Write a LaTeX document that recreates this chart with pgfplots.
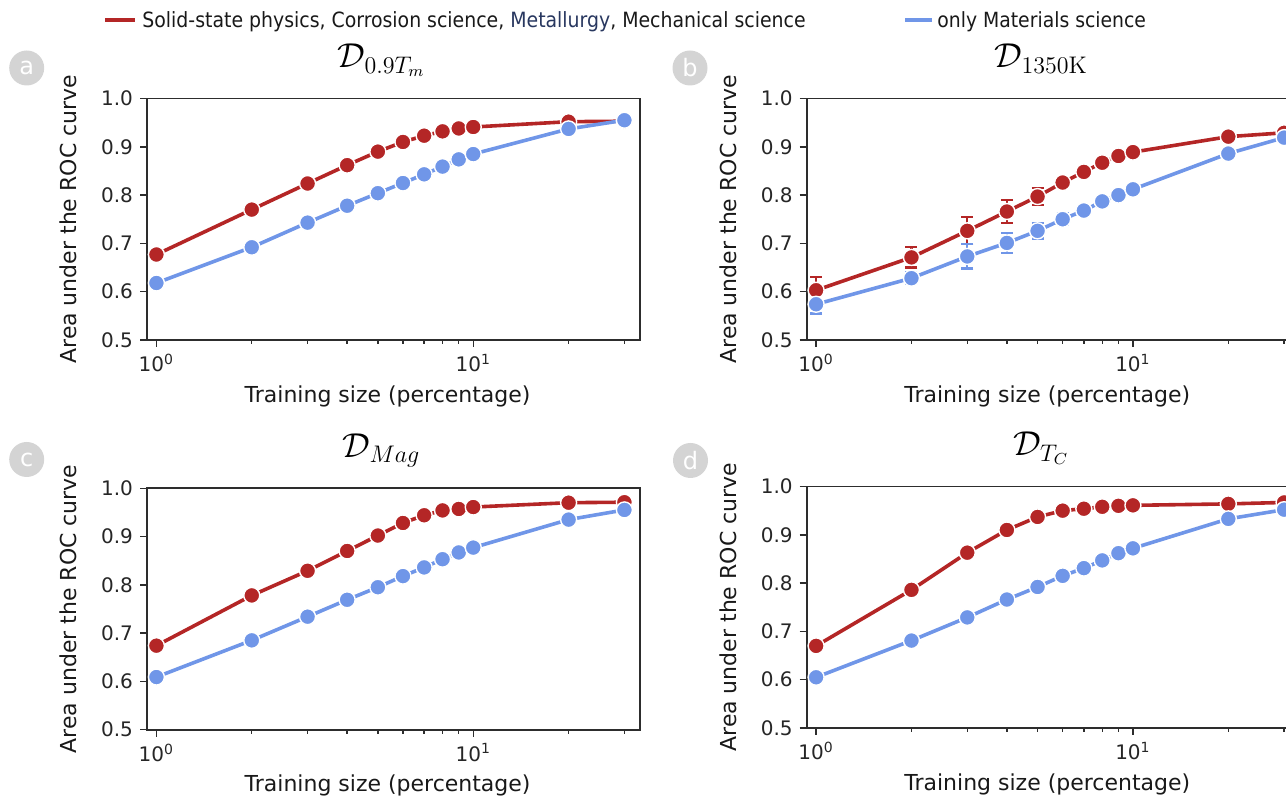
\documentclass[border=0pt]{standalone}
\usepackage[no-math]{fontspec}
\setmainfont{DejaVu Sans}
\newfontfamily\legfont{DejaVu Sans Condensed}
\usepackage{pgfplots}
\pgfplotsset{compat=1.18}
\usepackage{pgfplotstable}

\definecolor{cR}{RGB}{180,38,38}
\definecolor{cB}{RGB}{112,150,232}
\definecolor{navy}{RGB}{40,55,95}
\definecolor{frm}{RGB}{45,45,45}
\definecolor{circ}{RGB}{212,212,212}

\pgfplotstableread{
x y e
1 0.677 0.008
2 0.770 0.004
3 0.824 0.004
4 0.862 0.003
5 0.890 0.003
6 0.910 0.003
7 0.923 0.003
8 0.932 0.002
9 0.938 0.002
10 0.941 0.002
20 0.952 0.002
30 0.953 0.001
}\tabAR
\pgfplotstableread{
x y e
1 0.618 0.008
2 0.692 0.009
3 0.743 0.010
4 0.778 0.009
5 0.804 0.007
6 0.825 0.007
7 0.843 0.006
8 0.859 0.005
9 0.874 0.004
10 0.885 0.003
20 0.937 0.003
30 0.955 0.002
}\tabAB
\pgfplotstableread{
x y e
1 0.603 0.028
2 0.671 0.021
3 0.726 0.028
4 0.766 0.024
5 0.797 0.018
6 0.826 0.006
7 0.848 0.005
8 0.867 0.005
9 0.881 0.004
10 0.889 0.004
20 0.921 0.003
30 0.929 0.004
}\tabBR
\pgfplotstableread{
x y e
1 0.574 0.019
2 0.628 0.012
3 0.673 0.025
4 0.701 0.021
5 0.726 0.016
6 0.750 0.012
7 0.768 0.012
8 0.787 0.011
9 0.800 0.010
10 0.812 0.006
20 0.886 0.004
30 0.919 0.003
}\tabBB
\pgfplotstableread{
x y e
1 0.674 0.008
2 0.778 0.003
3 0.829 0.003
4 0.870 0.003
5 0.902 0.002
6 0.928 0.002
7 0.944 0.002
8 0.954 0.002
9 0.957 0.002
10 0.961 0.002
20 0.970 0.001
30 0.971 0.001
}\tabCR
\pgfplotstableread{
x y e
1 0.609 0.004
2 0.685 0.003
3 0.734 0.003
4 0.769 0.003
5 0.795 0.003
6 0.818 0.003
7 0.836 0.003
8 0.853 0.003
9 0.867 0.002
10 0.877 0.002
20 0.935 0.002
30 0.955 0.001
}\tabCB
\pgfplotstableread{
x y e
1 0.670 0.008
2 0.786 0.007
3 0.863 0.006
4 0.910 0.003
5 0.937 0.002
6 0.950 0.002
7 0.954 0.002
8 0.958 0.001
9 0.960 0.001
10 0.961 0.001
20 0.964 0.001
30 0.967 0.001
}\tabDR
\pgfplotstableread{
x y e
1 0.605 0.003
2 0.681 0.003
3 0.729 0.003
4 0.766 0.003
5 0.792 0.003
6 0.815 0.003
7 0.831 0.003
8 0.847 0.003
9 0.862 0.002
10 0.872 0.002
20 0.933 0.002
30 0.952 0.001
}\tabDB

\pgfplotsset{
  every axis/.append style={
    scale only axis, width=246.5pt, height=120.75pt,
    xmin=0.934, xmax=33.6, ymin=0.5, ymax=1.0,
    xtick={1,10}, xticklabels={10\textsuperscript{0},10\textsuperscript{1}},
    minor xtick={2,3,4,5,6,7,8,9,20,30},
    ytick={0.5,0.6,0.7,0.8,0.9,1.0},
    yticklabels={0.5,0.6,0.7,0.8,0.9,1.0},
    tick label style={font=\fontsize{10}{12}\selectfont, text=black!85},
    axis line style={frm, line width=0.9pt},
    tick style={frm, line width=0.7pt},
    major tick length=3.5pt, minor tick length=2pt,
    tick align=outside, tick pos=left,
    xlabel={Training size (percentage)},
    ylabel={Area under the ROC curve},
    xlabel style={font=\fontsize{11}{13}\selectfont, text=black!90, at={(axis description cs:0.488,-0.232)}, anchor=center},
    ylabel style={font=\fontsize{11}{13}\selectfont, text=black!90, at={(axis description cs:-0.160,0.5)}, anchor=center},
    title style={font=\fontsize{16.5}{18}\selectfont, at={(axis description cs:0.476,1.077)}, anchor=base},
  },
}

\begin{document}
\begin{tikzpicture}
\useasboundingbox (0,0) rectangle (643pt,398.5pt);
\clip (0,0) rectangle (643pt,398.5pt);

\draw[cR, line width=2pt] (52.5pt,388.5pt) -- (67.5pt,388.5pt);
\node[anchor=base west, inner sep=0pt, font=\legfont\fontsize{10.5}{12}\selectfont, text=black!90] at (71pt,384.8pt)
  {Solid-state physics, Corrosion science, \textcolor{navy}{Metallurgy}, Mechanical science};
\draw[cB, line width=2pt] (452.5pt,388.5pt) -- (466pt,388.5pt);
\node[anchor=base west, inner sep=0pt, font=\legfont\fontsize{10.45}{12}\selectfont, text=black!90] at (468.5pt,384.8pt)
  {only Materials science};

\node[circle, fill=circ, text=white, minimum size=17.5pt, inner sep=0pt, font=\fontsize{12}{13}\selectfont] at (13.35pt,364.5pt) {a};
\node[circle, fill=circ, text=white, minimum size=17.5pt, inner sep=0pt, font=\fontsize{12}{13}\selectfont] at (345pt,364.5pt) {b};
\node[circle, fill=circ, text=white, minimum size=17.5pt, inner sep=0pt, font=\fontsize{12}{13}\selectfont] at (13.35pt,168.75pt) {c};
\node[circle, fill=circ, text=white, minimum size=17.5pt, inner sep=0pt, font=\fontsize{12}{13}\selectfont] at (345.25pt,168.25pt) {d};

\begin{semilogxaxis}[at={(73.5pt,228.5pt)}, anchor=south west, title={$\mathcal{D}_{0.9T_m}$}]
\addplot[color=cR, line width=1.8pt, mark=*, mark size=4pt, mark options={fill=cR, draw=white, line width=0.7pt, solid},
  error bars/.cd, y dir=both, y explicit, error bar style={line width=1.1pt, cR},
  error mark options={rotate=90, mark size=3pt, line width=1.1pt, cR}]
  table[x=x, y=y, y error=e] {\tabAR};
\addplot[color=cB, line width=1.8pt, mark=*, mark size=4pt, mark options={fill=cB, draw=white, line width=0.7pt, solid},
  error bars/.cd, y dir=both, y explicit, error bar style={line width=1.1pt, cB},
  error mark options={rotate=90, mark size=3pt, line width=1.1pt, cB}]
  table[x=x, y=y, y error=e] {\tabAB};
\end{semilogxaxis}

\begin{semilogxaxis}[at={(403.35pt,228.5pt)}, anchor=south west, title={$\mathcal{D}_{1350\mathrm{K}}$}]
\addplot[color=cR, line width=1.8pt, mark=*, mark size=4pt, mark options={fill=cR, draw=white, line width=0.7pt, solid},
  error bars/.cd, y dir=both, y explicit, error bar style={line width=1.1pt, cR},
  error mark options={rotate=90, mark size=3pt, line width=1.1pt, cR}]
  table[x=x, y=y, y error=e] {\tabBR};
\addplot[color=cB, line width=1.8pt, mark=*, mark size=4pt, mark options={fill=cB, draw=white, line width=0.7pt, solid},
  error bars/.cd, y dir=both, y explicit, error bar style={line width=1.1pt, cB},
  error mark options={rotate=90, mark size=3pt, line width=1.1pt, cB}]
  table[x=x, y=y, y error=e] {\tabBB};
\end{semilogxaxis}

\begin{semilogxaxis}[at={(73.5pt,33.65pt)}, anchor=south west, title={$\mathcal{D}_{Mag}$}]
\addplot[color=cR, line width=1.8pt, mark=*, mark size=4pt, mark options={fill=cR, draw=white, line width=0.7pt, solid},
  error bars/.cd, y dir=both, y explicit, error bar style={line width=1.1pt, cR},
  error mark options={rotate=90, mark size=3pt, line width=1.1pt, cR}]
  table[x=x, y=y, y error=e] {\tabCR};
\addplot[color=cB, line width=1.8pt, mark=*, mark size=4pt, mark options={fill=cB, draw=white, line width=0.7pt, solid},
  error bars/.cd, y dir=both, y explicit, error bar style={line width=1.1pt, cB},
  error mark options={rotate=90, mark size=3pt, line width=1.1pt, cB}]
  table[x=x, y=y, y error=e] {\tabCB};
\end{semilogxaxis}

\begin{semilogxaxis}[at={(403.35pt,34.5pt)}, anchor=south west, title={$\mathcal{D}_{T_C}$}]
\addplot[color=cR, line width=1.8pt, mark=*, mark size=4pt, mark options={fill=cR, draw=white, line width=0.7pt, solid},
  error bars/.cd, y dir=both, y explicit, error bar style={line width=1.1pt, cR},
  error mark options={rotate=90, mark size=3pt, line width=1.1pt, cR}]
  table[x=x, y=y, y error=e] {\tabDR};
\addplot[color=cB, line width=1.8pt, mark=*, mark size=4pt, mark options={fill=cB, draw=white, line width=0.7pt, solid},
  error bars/.cd, y dir=both, y explicit, error bar style={line width=1.1pt, cB},
  error mark options={rotate=90, mark size=3pt, line width=1.1pt, cB}]
  table[x=x, y=y, y error=e] {\tabDB};
\end{semilogxaxis}
\end{tikzpicture}
\end{document}
